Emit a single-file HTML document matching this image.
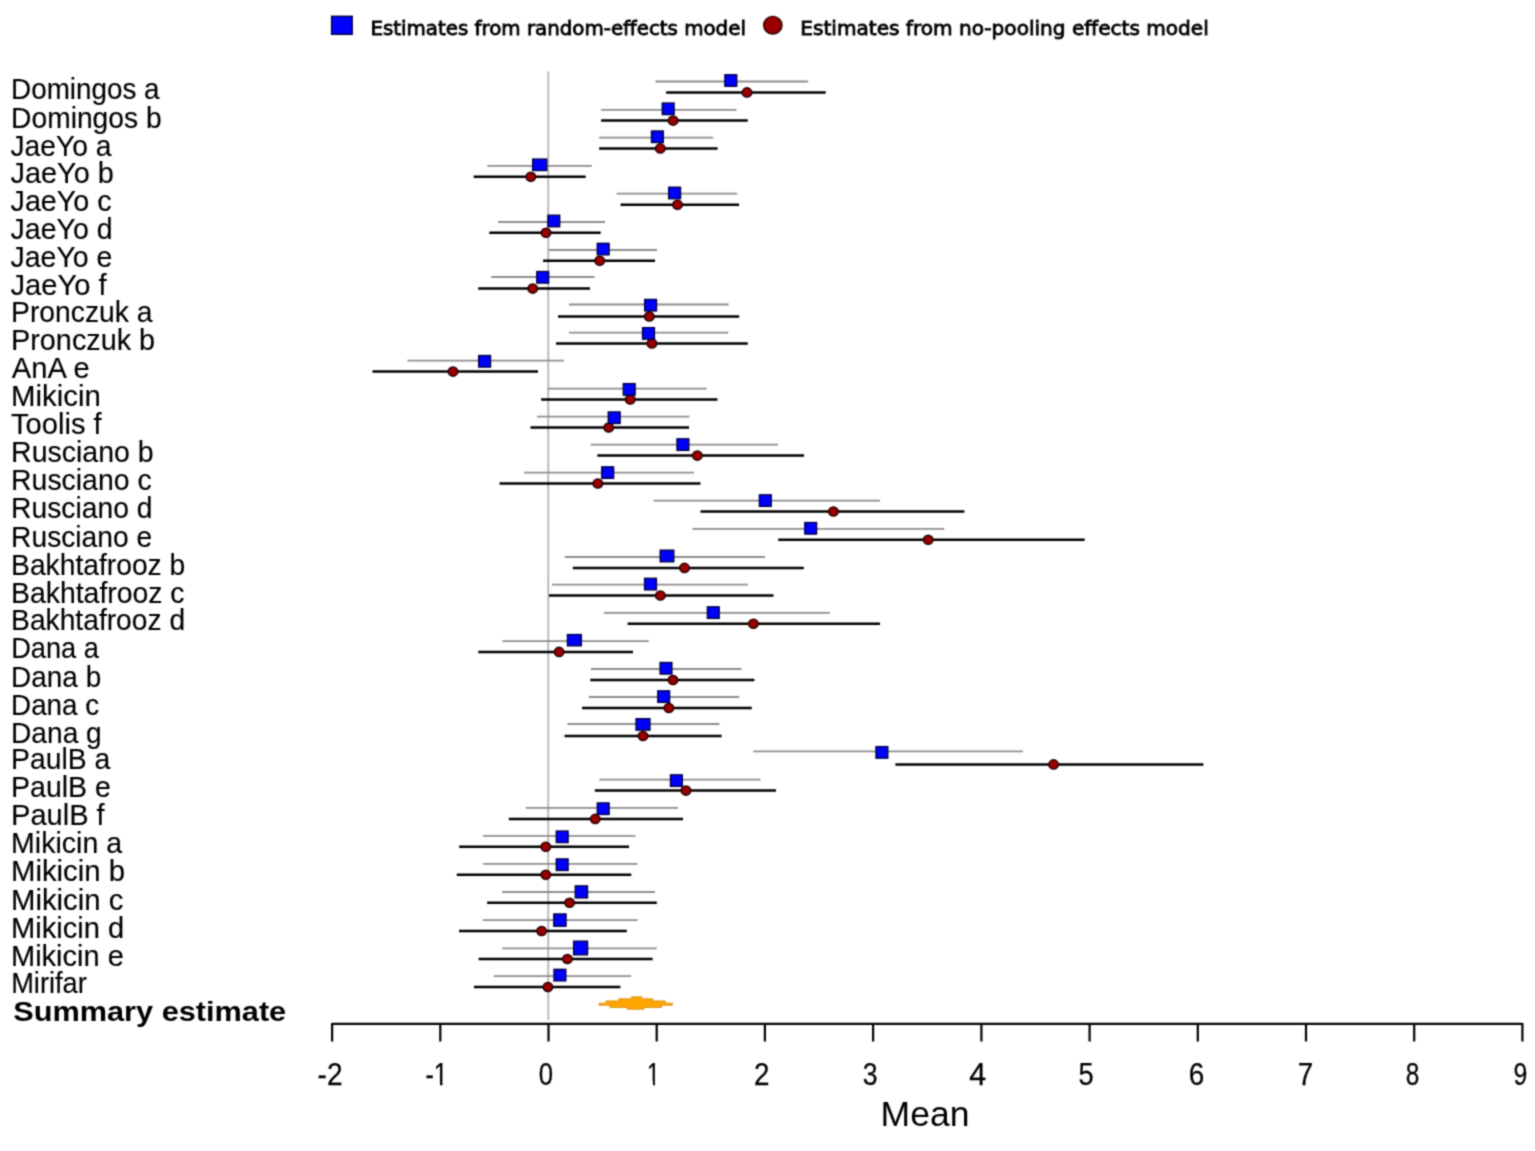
<!DOCTYPE html>
<html><head><meta charset="utf-8"><title>Forest plot</title>
<style>
html,body{margin:0;padding:0;background:#fff;}
body{width:1535px;height:1151px;overflow:hidden;}
svg{display:block;}
#w{width:1535px;height:1151px;}
.lab{font-family:"Liberation Sans",Arial,sans-serif;font-size:29.5px;fill:#000;stroke:#000;stroke-width:0.15px;}
.tick{font-family:"Liberation Sans",Arial,sans-serif;font-size:30.8px;fill:#000;stroke:#000;stroke-width:0.25px;}
.leg{font-family:"DejaVu Sans","Liberation Sans",sans-serif;font-size:20.3px;fill:#000;stroke:#000;stroke-width:0.85px;}
</style></head><body>
<div id="w"><svg width="1535" height="1151" viewBox="0 0 1535 1151">
<rect x="0" y="0" width="1535" height="1151" fill="#fff"/>
<defs><filter id="soft" color-interpolation-filters="sRGB" filterUnits="userSpaceOnUse" x="0" y="0" width="1535" height="1151"><feConvolveMatrix order="3" kernelMatrix="0.04 0.12 0.04 0.12 0.36 0.12 0.04 0.12 0.04" divisor="1" edgeMode="duplicate" preserveAlpha="false"/></filter></defs>
<g filter="url(#soft)">

<rect x="331.6" y="16.3" width="20.6" height="18.0" fill="#0000ff" stroke="#000045" stroke-width="1.4"/>
<text class="leg" x="370.4" y="34.6" textLength="375.5" lengthAdjust="spacingAndGlyphs">Estimates from random-effects model</text>
<ellipse cx="772.8" cy="25.2" rx="9.15" ry="8.85" fill="#9a0000" stroke="#260000" stroke-width="1.4"/>
<text class="leg" x="800.3" y="34.6" textLength="408.5" lengthAdjust="spacingAndGlyphs">Estimates from no-pooling effects model</text>
<line x1="548.3" y1="71.5" x2="548.3" y2="1020" stroke="#acacac" stroke-width="1.6"/>
<g stroke="#8d8d8d" stroke-width="1.8"><line x1="655.4" y1="81.5" x2="808.1" y2="81.5"/><line x1="601.1" y1="109.8" x2="736.5" y2="109.8"/><line x1="599.1" y1="137.6" x2="713.1" y2="137.6"/><line x1="487.4" y1="165.9" x2="591.9" y2="165.9"/><line x1="616.7" y1="193.7" x2="737.1" y2="193.7"/><line x1="498.1" y1="222.0" x2="605.0" y2="222.0"/><line x1="548.9" y1="250.0" x2="657.0" y2="250.0"/><line x1="491.3" y1="277.0" x2="594.5" y2="277.0"/><line x1="569.0" y1="304.5" x2="728.7" y2="304.5"/><line x1="569.0" y1="332.6" x2="728.2" y2="332.6"/><line x1="407.4" y1="360.6" x2="563.8" y2="360.6"/><line x1="548.1" y1="388.7" x2="706.6" y2="388.7"/><line x1="537.0" y1="416.6" x2="689.4" y2="416.6"/><line x1="590.7" y1="444.6" x2="778.0" y2="444.6"/><line x1="524.0" y1="472.6" x2="694.0" y2="472.6"/><line x1="653.6" y1="500.6" x2="880.0" y2="500.6"/><line x1="692.5" y1="528.9" x2="944.2" y2="528.9"/><line x1="564.8" y1="557.0" x2="765.1" y2="557.0"/><line x1="552.0" y1="584.7" x2="748.0" y2="584.7"/><line x1="603.8" y1="612.8" x2="830.0" y2="612.8"/><line x1="502.3" y1="641.2" x2="648.7" y2="641.2"/><line x1="590.9" y1="669.0" x2="741.4" y2="669.0"/><line x1="588.8" y1="697.0" x2="739.3" y2="697.0"/><line x1="567.4" y1="724.0" x2="719.5" y2="724.0"/><line x1="753.1" y1="751.4" x2="1023.0" y2="751.4"/><line x1="599.3" y1="779.6" x2="760.5" y2="779.6"/><line x1="525.9" y1="807.8" x2="678.0" y2="807.8"/><line x1="483.1" y1="835.9" x2="635.4" y2="835.9"/><line x1="483.1" y1="863.9" x2="637.4" y2="863.9"/><line x1="502.3" y1="892.0" x2="654.8" y2="892.0"/><line x1="482.7" y1="920.1" x2="637.7" y2="920.1"/><line x1="502.3" y1="948.3" x2="656.8" y2="948.3"/><line x1="493.9" y1="976.2" x2="631.1" y2="976.2"/></g>
<g stroke="#000" stroke-width="2.5"><line x1="666.1" y1="92.4" x2="825.7" y2="92.4"/><line x1="601.1" y1="120.6" x2="747.8" y2="120.6"/><line x1="599.1" y1="148.4" x2="717.6" y2="148.4"/><line x1="473.7" y1="176.7" x2="585.7" y2="176.7"/><line x1="620.6" y1="204.8" x2="739.1" y2="204.8"/><line x1="489.3" y1="232.8" x2="600.7" y2="232.8"/><line x1="543.1" y1="260.7" x2="655.0" y2="260.7"/><line x1="478.2" y1="288.6" x2="590.0" y2="288.6"/><line x1="558.0" y1="316.4" x2="739.2" y2="316.4"/><line x1="556.0" y1="343.5" x2="747.8" y2="343.5"/><line x1="372.5" y1="371.6" x2="538.0" y2="371.6"/><line x1="541.1" y1="399.4" x2="717.5" y2="399.4"/><line x1="530.5" y1="427.5" x2="689.1" y2="427.5"/><line x1="597.3" y1="455.6" x2="804.1" y2="455.6"/><line x1="499.5" y1="483.5" x2="700.5" y2="483.5"/><line x1="700.5" y1="511.5" x2="964.4" y2="511.5"/><line x1="778.2" y1="539.8" x2="1084.7" y2="539.8"/><line x1="572.8" y1="567.9" x2="803.8" y2="567.9"/><line x1="549.1" y1="595.5" x2="773.5" y2="595.5"/><line x1="627.6" y1="623.7" x2="880.0" y2="623.7"/><line x1="478.3" y1="651.9" x2="633.0" y2="651.9"/><line x1="590.3" y1="680.0" x2="754.4" y2="680.0"/><line x1="582.0" y1="708.0" x2="751.8" y2="708.0"/><line x1="564.6" y1="736.0" x2="721.6" y2="736.0"/><line x1="895.4" y1="764.4" x2="1203.4" y2="764.4"/><line x1="594.8" y1="790.6" x2="776.0" y2="790.6"/><line x1="508.8" y1="818.9" x2="683.0" y2="818.9"/><line x1="459.1" y1="846.7" x2="629.0" y2="846.7"/><line x1="456.8" y1="874.7" x2="631.3" y2="874.7"/><line x1="487.1" y1="902.8" x2="656.8" y2="902.8"/><line x1="459.0" y1="931.0" x2="626.8" y2="931.0"/><line x1="478.6" y1="959.0" x2="652.6" y2="959.0"/><line x1="473.9" y1="987.0" x2="620.4" y2="987.0"/></g>
<g fill="#9a0000" stroke="#260000" stroke-width="1.5"><ellipse cx="747.0" cy="92.4" rx="4.75" ry="4.55"/><ellipse cx="673.1" cy="120.6" rx="4.75" ry="4.55"/><ellipse cx="660.3" cy="148.4" rx="4.75" ry="4.55"/><ellipse cx="530.8" cy="176.7" rx="4.75" ry="4.55"/><ellipse cx="677.5" cy="204.8" rx="4.75" ry="4.55"/><ellipse cx="546.0" cy="232.8" rx="4.75" ry="4.55"/><ellipse cx="599.7" cy="260.7" rx="4.75" ry="4.55"/><ellipse cx="532.7" cy="288.6" rx="4.75" ry="4.55"/><ellipse cx="649.3" cy="316.4" rx="4.75" ry="4.55"/><ellipse cx="651.9" cy="343.5" rx="4.75" ry="4.55"/><ellipse cx="453.0" cy="371.6" rx="4.75" ry="4.55"/><ellipse cx="630.2" cy="399.4" rx="4.75" ry="4.55"/><ellipse cx="608.7" cy="427.5" rx="4.75" ry="4.55"/><ellipse cx="697.3" cy="455.6" rx="4.75" ry="4.55"/><ellipse cx="597.9" cy="483.5" rx="4.75" ry="4.55"/><ellipse cx="833.4" cy="511.5" rx="4.75" ry="4.55"/><ellipse cx="928.2" cy="539.8" rx="4.75" ry="4.55"/><ellipse cx="684.5" cy="567.9" rx="4.75" ry="4.55"/><ellipse cx="660.4" cy="595.5" rx="4.75" ry="4.55"/><ellipse cx="753.4" cy="623.7" rx="4.75" ry="4.55"/><ellipse cx="559.1" cy="651.9" rx="4.75" ry="4.55"/><ellipse cx="673.0" cy="680.0" rx="4.75" ry="4.55"/><ellipse cx="668.9" cy="708.0" rx="4.75" ry="4.55"/><ellipse cx="643.0" cy="736.0" rx="4.75" ry="4.55"/><ellipse cx="1053.6" cy="764.4" rx="4.75" ry="4.55"/><ellipse cx="686.0" cy="790.6" rx="4.75" ry="4.55"/><ellipse cx="595.2" cy="818.9" rx="4.75" ry="4.55"/><ellipse cx="545.8" cy="846.7" rx="4.75" ry="4.55"/><ellipse cx="545.8" cy="874.7" rx="4.75" ry="4.55"/><ellipse cx="569.6" cy="902.8" rx="4.75" ry="4.55"/><ellipse cx="541.6" cy="931.0" rx="4.75" ry="4.55"/><ellipse cx="567.4" cy="959.0" rx="4.75" ry="4.55"/><ellipse cx="547.9" cy="987.0" rx="4.75" ry="4.55"/></g>
<g fill="#0000ff" stroke="#000045" stroke-width="1.4"><rect x="724.90" y="74.75" width="11.80" height="11.50"/><rect x="662.30" y="103.05" width="11.80" height="11.50"/><rect x="651.50" y="131.00" width="11.80" height="11.50"/><rect x="532.70" y="159.10" width="14.00" height="11.40"/><rect x="668.70" y="187.25" width="11.80" height="11.50"/><rect x="547.90" y="215.25" width="11.80" height="11.50"/><rect x="597.30" y="243.35" width="11.80" height="11.50"/><rect x="536.80" y="271.55" width="11.80" height="11.50"/><rect x="644.70" y="299.45" width="11.80" height="11.50"/><rect x="642.60" y="327.65" width="11.80" height="11.50"/><rect x="478.70" y="355.55" width="11.80" height="11.50"/><rect x="623.30" y="383.65" width="11.80" height="11.50"/><rect x="608.30" y="411.95" width="11.80" height="11.50"/><rect x="677.00" y="438.85" width="11.80" height="11.50"/><rect x="601.80" y="466.85" width="11.80" height="11.50"/><rect x="759.40" y="494.85" width="11.80" height="11.50"/><rect x="804.80" y="522.55" width="11.80" height="11.50"/><rect x="660.20" y="550.20" width="13.60" height="11.60"/><rect x="644.60" y="578.35" width="11.80" height="11.50"/><rect x="707.40" y="606.85" width="11.80" height="11.50"/><rect x="567.45" y="634.60" width="13.90" height="11.20"/><rect x="660.10" y="662.55" width="11.80" height="11.50"/><rect x="657.80" y="690.85" width="11.80" height="11.50"/><rect x="636.05" y="718.70" width="13.90" height="11.40"/><rect x="876.00" y="746.65" width="11.80" height="11.50"/><rect x="670.50" y="774.85" width="11.80" height="11.50"/><rect x="597.30" y="802.95" width="11.80" height="11.50"/><rect x="556.30" y="831.05" width="11.80" height="11.50"/><rect x="556.30" y="858.95" width="11.80" height="11.50"/><rect x="575.30" y="885.90" width="12.20" height="12.00"/><rect x="553.80" y="914.00" width="12.20" height="12.20"/><rect x="573.65" y="941.20" width="13.90" height="13.60"/><rect x="554.00" y="969.35" width="11.80" height="11.50"/></g>
<text class="lab" x="11.11" y="99.3" textLength="148.48" lengthAdjust="spacingAndGlyphs">Domingos a</text>
<text class="lab" x="11.09" y="128.0" textLength="150.57" lengthAdjust="spacingAndGlyphs">Domingos b</text>
<text class="lab" x="10.54" y="155.8" textLength="100.82" lengthAdjust="spacingAndGlyphs">JaeYo a</text>
<text class="lab" x="10.52" y="183.2" textLength="103.29" lengthAdjust="spacingAndGlyphs">JaeYo b</text>
<text class="lab" x="10.53" y="210.9" textLength="101.14" lengthAdjust="spacingAndGlyphs">JaeYo c</text>
<text class="lab" x="10.53" y="239.3" textLength="102.06" lengthAdjust="spacingAndGlyphs">JaeYo d</text>
<text class="lab" x="10.53" y="267.4" textLength="101.96" lengthAdjust="spacingAndGlyphs">JaeYo e</text>
<text class="lab" x="10.51" y="295.4" textLength="96.23" lengthAdjust="spacingAndGlyphs">JaeYo f</text>
<text class="lab" x="11.08" y="321.9" textLength="141.41" lengthAdjust="spacingAndGlyphs">Pronczuk a</text>
<text class="lab" x="11.05" y="349.7" textLength="144.09" lengthAdjust="spacingAndGlyphs">Pronczuk b</text>
<text class="lab" x="11.80" y="377.7" textLength="77.81" lengthAdjust="spacingAndGlyphs">AnA e</text>
<text class="lab" x="11.01" y="405.8" textLength="89.84" lengthAdjust="spacingAndGlyphs">Mikicin</text>
<text class="lab" x="11.01" y="433.8" textLength="90.72" lengthAdjust="spacingAndGlyphs">Toolis f</text>
<text class="lab" x="11.07" y="461.9" textLength="142.57" lengthAdjust="spacingAndGlyphs">Rusciano b</text>
<text class="lab" x="11.07" y="489.8" textLength="140.53" lengthAdjust="spacingAndGlyphs">Rusciano c</text>
<text class="lab" x="11.08" y="518.1" textLength="141.44" lengthAdjust="spacingAndGlyphs">Rusciano d</text>
<text class="lab" x="11.09" y="546.5" textLength="141.14" lengthAdjust="spacingAndGlyphs">Rusciano e</text>
<text class="lab" x="11.09" y="574.6" textLength="174.20" lengthAdjust="spacingAndGlyphs">Bakhtafrooz b</text>
<text class="lab" x="11.08" y="602.6" textLength="173.45" lengthAdjust="spacingAndGlyphs">Bakhtafrooz c</text>
<text class="lab" x="11.09" y="630.4" textLength="174.05" lengthAdjust="spacingAndGlyphs">Bakhtafrooz d</text>
<text class="lab" x="11.16" y="658.4" textLength="87.67" lengthAdjust="spacingAndGlyphs">Dana a</text>
<text class="lab" x="11.11" y="686.6" textLength="90.07" lengthAdjust="spacingAndGlyphs">Dana b</text>
<text class="lab" x="11.12" y="714.9" textLength="88.04" lengthAdjust="spacingAndGlyphs">Dana c</text>
<text class="lab" x="11.09" y="743.0" textLength="90.64" lengthAdjust="spacingAndGlyphs">Dana g</text>
<text class="lab" x="11.08" y="768.8" textLength="99.24" lengthAdjust="spacingAndGlyphs">PaulB a</text>
<text class="lab" x="11.07" y="796.9" textLength="99.81" lengthAdjust="spacingAndGlyphs">PaulB e</text>
<text class="lab" x="11.03" y="825.3" textLength="93.69" lengthAdjust="spacingAndGlyphs">PaulB f</text>
<text class="lab" x="11.07" y="853.3" textLength="110.99" lengthAdjust="spacingAndGlyphs">Mikicin a</text>
<text class="lab" x="11.01" y="881.1" textLength="114.03" lengthAdjust="spacingAndGlyphs">Mikicin b</text>
<text class="lab" x="11.01" y="909.5" textLength="112.37" lengthAdjust="spacingAndGlyphs">Mikicin c</text>
<text class="lab" x="11.03" y="937.5" textLength="113.30" lengthAdjust="spacingAndGlyphs">Mikicin d</text>
<text class="lab" x="11.03" y="965.7" textLength="112.79" lengthAdjust="spacingAndGlyphs">Mikicin e</text>
<text class="lab" x="11.15" y="993.2" textLength="75.71" lengthAdjust="spacingAndGlyphs">Mirifar</text>
<text x="13.2" y="1021" font-family="Liberation Sans, Arial, sans-serif" font-weight="bold" font-size="28.5" textLength="273" lengthAdjust="spacingAndGlyphs">Summary estimate</text>
<polygon points="599.1,1003.2 605.8,1003.2 605.8,1000.9 618.7,1000.9 618.7,998.8 631.3,998.8 631.3,996.8 641.9,996.8 641.9,998.8 652.7,998.8 652.7,1000.9 665.3,1000.9 665.3,1003.2 672.4,1003.2 672.4,1005.3 661.5,1005.3 661.5,1007.5 643.9,1007.5 643.9,1009.3 627.2,1009.3 627.2,1007.5 609.9,1007.5 609.9,1005.3 599.1,1005.3" fill="#ffa500" stroke="#d08c14" stroke-width="0.8" stroke-linejoin="miter"/>
<line x1="332.1" y1="1023.8" x2="1522.4" y2="1023.8" stroke="#000" stroke-width="2.3"/>
<line x1="332.1" y1="1023" x2="332.1" y2="1041.5" stroke="#000" stroke-width="2.2"/>
<text class="tick" x="317.59" y="1085.2" textLength="24.98" lengthAdjust="spacingAndGlyphs">-2</text>
<line x1="440.3" y1="1023" x2="440.3" y2="1041.5" stroke="#000" stroke-width="2.2"/>
<text class="tick" x="425.39" y="1085.2" textLength="22.24" lengthAdjust="spacingAndGlyphs">-1</text>
<line x1="548.5" y1="1023" x2="548.5" y2="1041.5" stroke="#000" stroke-width="2.2"/>
<text class="tick" x="538.77" y="1085.2" textLength="14.28" lengthAdjust="spacingAndGlyphs">0</text>
<line x1="656.7" y1="1023" x2="656.7" y2="1041.5" stroke="#000" stroke-width="2.2"/>
<text class="tick" x="647.00" y="1085.2" textLength="12.86" lengthAdjust="spacingAndGlyphs">1</text>
<line x1="764.9" y1="1023" x2="764.9" y2="1041.5" stroke="#000" stroke-width="2.2"/>
<text class="tick" x="754.00" y="1085.2" textLength="15.43" lengthAdjust="spacingAndGlyphs">2</text>
<line x1="873.1" y1="1023" x2="873.1" y2="1041.5" stroke="#000" stroke-width="2.2"/>
<text class="tick" x="862.63" y="1085.2" textLength="14.86" lengthAdjust="spacingAndGlyphs">3</text>
<line x1="981.4" y1="1023" x2="981.4" y2="1041.5" stroke="#000" stroke-width="2.2"/>
<text class="tick" x="969.31" y="1085.2" textLength="17.03" lengthAdjust="spacingAndGlyphs">4</text>
<line x1="1089.6" y1="1023" x2="1089.6" y2="1041.5" stroke="#000" stroke-width="2.2"/>
<text class="tick" x="1078.61" y="1085.2" textLength="15.20" lengthAdjust="spacingAndGlyphs">5</text>
<line x1="1197.8" y1="1023" x2="1197.8" y2="1041.5" stroke="#000" stroke-width="2.2"/>
<text class="tick" x="1188.79" y="1085.2" textLength="15.54" lengthAdjust="spacingAndGlyphs">6</text>
<line x1="1306.0" y1="1023" x2="1306.0" y2="1041.5" stroke="#000" stroke-width="2.2"/>
<text class="tick" x="1297.80" y="1085.2" textLength="15.43" lengthAdjust="spacingAndGlyphs">7</text>
<line x1="1414.2" y1="1023" x2="1414.2" y2="1041.5" stroke="#000" stroke-width="2.2"/>
<text class="tick" x="1405.71" y="1085.2" textLength="13.60" lengthAdjust="spacingAndGlyphs">8</text>
<line x1="1522.4" y1="1023" x2="1522.4" y2="1041.5" stroke="#000" stroke-width="2.2"/>
<text class="tick" x="1513.49" y="1085.2" textLength="13.83" lengthAdjust="spacingAndGlyphs">9</text>
<g fill="#fff"><rect x="434.3" y="1081.4" width="5.7" height="4.8"/><rect x="442.5" y="1081.4" width="5.5" height="4.8"/><rect x="647.3" y="1081.4" width="5.7" height="4.8"/><rect x="655.0" y="1081.4" width="5.0" height="4.8"/></g>

<text x="925" y="1126.2" text-anchor="middle" font-family="Liberation Sans, Arial, sans-serif" font-size="35.5">Mean</text>
</g></svg></div>
</body></html>
